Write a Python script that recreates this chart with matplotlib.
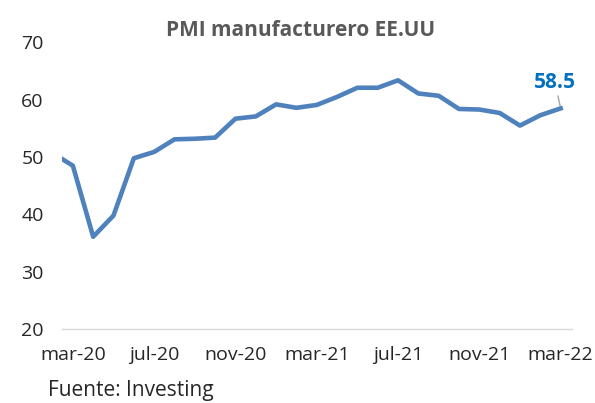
import matplotlib.pyplot as plt
import matplotlib as mpl

mpl.rcParams['font.family'] = ['Open Sans', 'DejaVu Sans']

# monthly PMI, feb-20 .. mar-22 (feb-20 is partly cut by the axis start)
months = ['feb-20', 'mar-20', 'abr-20', 'may-20', 'jun-20', 'jul-20', 'ago-20', 'sep-20',
          'oct-20', 'nov-20', 'dic-20', 'ene-21', 'feb-21', 'mar-21', 'abr-21', 'may-21',
          'jun-21', 'jul-21', 'ago-21', 'sep-21', 'oct-21', 'nov-21', 'dic-21', 'ene-22',
          'feb-22', 'mar-22']
pmi = [50.7, 48.5, 36.1, 39.8, 49.8, 50.9, 53.1, 53.2, 53.4, 56.7, 57.1, 59.2, 58.6,
       59.1, 60.5, 62.1, 62.1, 63.4, 61.1, 60.7, 58.4, 58.3, 57.7, 55.5, 57.3, 58.5]
tick_labels = ['mar-20', 'jul-20', 'nov-20', 'mar-21', 'jul-21', 'nov-21', 'mar-22']
yticks = [20, 30, 40, 50, 60, 70]

x = list(range(-1, len(pmi) - 1))  # mar-20 -> 0

fig = plt.figure(figsize=(5.95, 4.03), dpi=100)
ax = fig.add_axes([0.104, 0.1836, 0.857, 0.711])

ax.plot(x, pmi, color='#4F81BD', lw=3.3, solid_joinstyle='round')
ax.set_xlim(-0.54, 24.55)
ax.set_ylim(20, 70)

ax.set_xticks([months.index(t) - 1 for t in tick_labels])
ax.set_xticklabels(tick_labels)
ax.set_yticks(yticks)
ax.tick_params(length=0, labelsize=14, colors='#262626')
ax.tick_params(axis='y', pad=13)
ax.tick_params(axis='x', pad=12.5)

for s in ['top', 'right', 'left']:
    ax.spines[s].set_visible(False)
ax.spines['bottom'].set_color('#D9D9D9')
ax.spines['bottom'].set_linewidth(1)

# last value label with leader line
ax.annotate(f'{pmi[-1]}', xy=(x[-1], pmi[-1]), xytext=(-4, 11), textcoords='offset points',
            ha='center', va='bottom', fontsize=15, fontweight='bold', color='#0070C0',
            arrowprops=dict(arrowstyle='-', color='#A6A6A6', lw=1, shrinkA=0, shrinkB=2))

fig.text(0.505, 0.925, 'PMI manufacturero EE.UU', ha='center', va='center',
         fontsize=15, fontweight='bold', color='#595959')
fig.text(0.08, 0.032, 'Fuente: Investing', ha='left', va='center', fontsize=15, color='#262626')

fig.savefig('out.png', dpi=100)
